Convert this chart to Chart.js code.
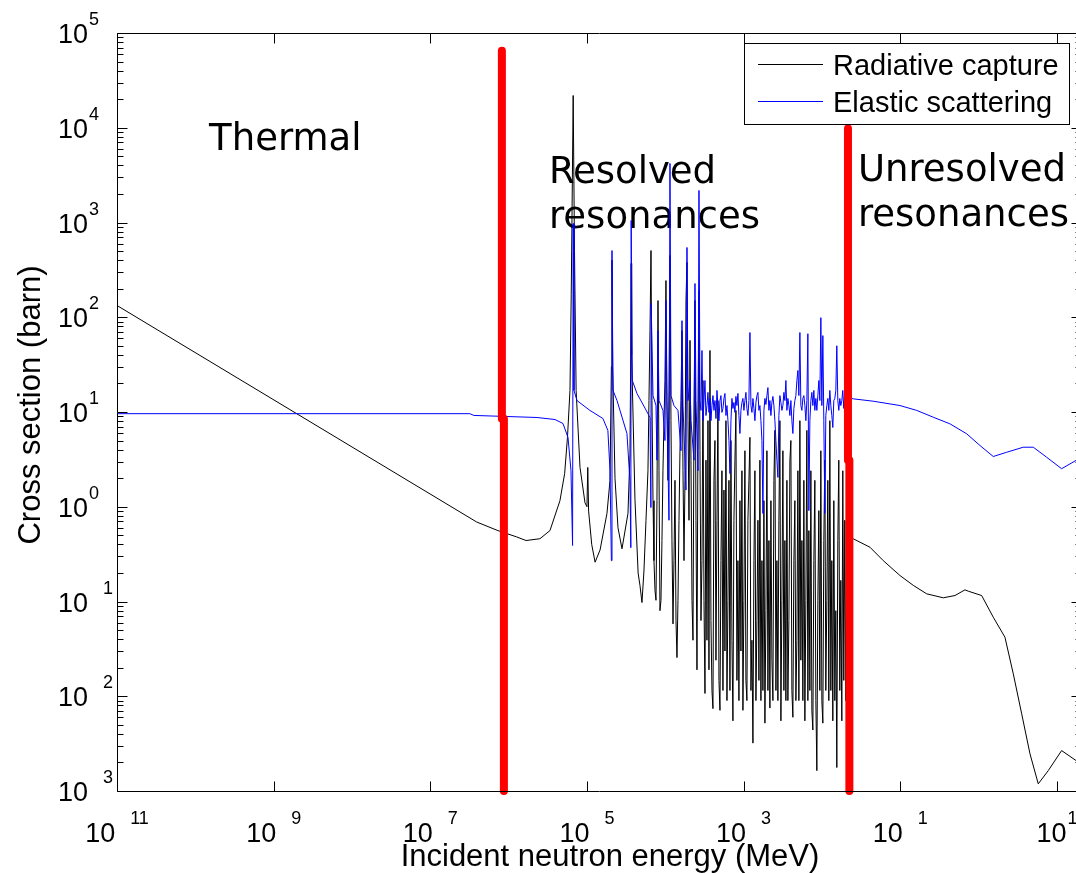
<!DOCTYPE html>
<html>
<head>
<meta charset="utf-8">
<title>U-238 cross sections</title>
<style>
  html, body { margin: 0; padding: 0; background: #fff; overflow: hidden; }
  #wrap { position: relative; width: 1100px; height: 873px; }
</style>
<script src="https://cdn.jsdelivr.net/npm/chart.js@4.4.1/dist/chart.umd.min.js"></script>
</head>
<body>
<div id="wrap"><canvas id="xs"></canvas></div>
<script>
// Energies are listed in eV, plotted in MeV; cross sections in barn.
var EV_TO_MEV = 1e-6;

var captureEnergyEV = [
  1e-5, 0.391, 0.73, 1.27, 1.67, 2.51, 3.37, 4.52, 5.19, 5.64, 6.07, 6.3, 6.67, 6.93, 7.27, 8.15, 9.44, 10.0, 10.24, 10.5,
  11.5, 12.7, 14.7, 18.0, 19.7, 20.5, 20.87, 21.3, 22.8, 24.9, 28.0, 33.4, 35.4, 36.2, 36.68, 37.2, 41.0, 45.0,
  47.5, 50.4, 53.4, 56.7, 60.1, 61.9, 63.8, 65.7, 67.6, 69.7, 71.7, 73.9, 76.1, 78.3, 80.7, 83.1, 85.5, 88.1, 90.7,
  93.4, 96.2, 99.1, 102, 105.1, 108.2, 111.5, 114.8, 118.2, 121.7, 125.4, 129.1, 133, 137, 141, 145.2, 149.6, 154,
  158.6, 163.3, 168.3, 173.3, 178.4, 183.7, 189.2, 194.9, 200.7, 206.7, 212.8, 219.2, 225.7, 232.4, 239.4, 246.5,
  253.8, 261.4, 269.2, 277.2, 285.5, 294, 302.8, 311.8, 321.1, 330.6, 340.5, 350.6, 361.1, 371.8, 382.9, 394.3,
  406.1, 418.2, 430.6, 443.5, 456.7, 470.3, 484.3, 498.8, 513.6, 528.9, 544.7, 561, 577.7, 594.9, 612.6, 630.9,
  649.7, 669, 689, 709.5, 730.6, 752.4, 774.8, 797.9, 821.7, 846.2, 871.4, 897.3, 924.1, 951.6, 980, 1009, 1039,
  1070, 1102, 1135, 1169, 1204, 1240, 1277, 1315, 1354, 1394, 1436, 1479, 1523, 1568, 1615, 1663, 1713, 1764, 1816,
  1870, 1926, 1984, 2043, 2104, 2166, 2231, 2297, 2366, 2436, 2509, 2584, 2661, 2740, 2822, 2906, 2992, 3082, 3173,
  3268, 3365, 3466, 3569, 3675, 3785, 3898, 4014, 4133, 4256, 4383, 4514, 4648, 4787, 4929, 5076, 5228, 5383, 5544,
  5709, 5879, 6054, 6234, 6420, 6612, 6808, 7011, 7220, 7435, 7657, 7885, 8120, 8361, 8610, 8867, 9131, 9403, 9683,
  9972, 10270, 10570, 10890, 11210, 11550, 11890, 12240, 12610, 12990, 13370, 13770, 14180, 14600, 15040, 15490,
  15950, 16420, 16910, 17420, 17940, 18470, 19020, 19590, 20170, 20770, 21390,
  25120, 41020, 60670, 99100, 146600, 217300, 354000, 499300, 669800, 738500, 1.094e6, 1.539e6, 2.17e6, 2.772e6,
  3.548e6, 4.529e6, 5.777e6, 7.749e6, 1.148e7, 1.749e7, 2e7
];
var captureXS = [
  133, 0.69, 0.56, 0.48, 0.44, 0.46, 0.56, 1.16, 2.24, 5.4, 16.9, 175, 21900, 506, 16.9, 2.6, 1.1, 1.0, 2.6, 0.9,
  0.4, 0.26, 0.35, 0.85, 1.9, 30, 400, 30, 2.0, 0.6, 0.36, 0.85, 3.6, 40, 370, 40, 1.2, 0.2,
  0.148, 0.0975, 0.21, 0.72, 2.4, 13.2, 72, 506, 13.2, 1.16, 0.27, 0.131, 0.103, 1.16, 150, 2.4, 0.080, 0.103, 0.44,
  2.4, 8.1, 21.5, 244, 13.2, 1.9, 16.9, 449, 8.1, 0.44, 0.058, 0.27, 1.9, 0.063, 0.0256, 0.103, 0.72, 3.9,
  13.2, 72, 2.4, 0.27, 1.9, 150, 380, 8.1, 0.72, 57, 3.1, 0.103, 0.039, 8.1, 150, 0.72,
  0.019, 6.4, 191, 3.9, 0.063, 0.27, 21.5, 0.103, 0.0107, 3.1, 0.039, 8.1, 0.019, 44.6, 0.063, 0.0115,
  0.0074, 1.9, 5.0, 0.024, 0.72, 13.2, 0.0147, 0.0071, 0.27, 2.4, 0.0115, 1.5, 0.030, 8.1, 0.009, 0.103,
  1.9, 0.0115, 5.0, 0.039, 0.0055, 0.72, 3.1, 10.4, 0.0147, 0.27, 0.009, 1.16, 0.030, 2.4, 0.0071, 0.103, 3.9,
  0.0147, 0.009, 0.72, 1.9, 5.4, 0.0115, 0.039, 0.0032, 0.27, 2.4, 0.009, 0.063, 0.72, 0.0147, 3.1, 0.009, 0.27, 0.0115, 1.16,
  0.0052, 0.08, 3.9, 0.0115, 0.44, 0.0075, 1.16, 0.024, 0.009, 1.9, 6.4, 0.0115, 0.27, 0.009, 0.72, 8.1, 0.0055, 0.103, 3.9,
  0.0115, 0.44, 0.009, 1.9, 0.009, 0.063, 3.1, 5.0, 0.0115, 0.006, 0.27, 1.16, 0.009, 0.039, 2.4, 0.009, 8.1, 0.024, 0.44,
  0.009, 1.9, 0.0055, 0.103, 6.4, 0.009, 0.56, 0.0115, 2.4, 0.0071, 0.0044, 0.27, 1.9, 0.009, 0.00164, 0.103, 0.91, 0.0115, 3.9,
  0.009, 0.0052, 0.44, 3.1, 0.0115, 0.103, 1.9, 0.009, 8.1, 0.0115, 0.27, 0.0055, 1.16, 0.009, 0.08, 0.00177,
  0.44, 3.1, 0.0115, 0.167, 0.0055, 2.4, 0.0147, 0.72, 0.009, 0.27, 0.44,
  0.459, 0.374, 0.27, 0.188, 0.148, 0.1205, 0.1094, 0.1156, 0.1327, 0.1285, 0.1156, 0.0683, 0.042, 0.01726,
  0.00653, 0.00247, 0.00119, 0.00164, 0.00267, 0.0021, 0.0019
];

var elasticEnergyEV = [
  1e-5, 0.32, 0.36, 2.30, 3.91, 4.94, 5.73, 6.25, 6.55, 6.67, 6.83, 7.46, 10.9, 16.0, 18.5, 19.7, 20.5, 20.87, 21.5,
  24.2, 32.4, 35.4, 36.3, 36.68, 37.9, 43.5, 55, 63.8, 65.5, 66.03, 69.7, 76.1, 78.3, 80.7, 83.1, 93.4, 99.1, 102,
  105.1, 111.5, 114.8, 118.2, 129.1, 145.2, 158.6, 163.3, 168.3, 183.7, 189.2, 194.9, 206.7, 212.8, 232.4, 239.4,
  246.5, 261.4, 269.2, 277.2,
  285.5, 294, 302.8, 311.8, 321.1, 330.6, 340.5, 350.6, 361.1, 371.8, 382.9, 394.3, 406.1, 418.2, 430.6, 443.5,
  456.7, 470.3, 484.3, 498.8, 513.6, 528.9, 544.7, 561, 577.7, 594.9, 612.6, 630.9, 649.7, 669, 689, 709.5, 730.6,
  752.4, 774.8, 797.9, 821.7, 846.2, 871.4, 897.3, 924.1, 951.6, 980, 1009, 1039, 1070, 1102, 1135, 1169, 1204,
  1240, 1277, 1315, 1354, 1394, 1436, 1479, 1523, 1568, 1615, 1663, 1713, 1764, 1816, 1870, 1926, 1984, 2043, 2104,
  2166, 2231, 2297, 2366, 2436, 2509, 2584, 2661, 2740, 2822, 2906, 2992, 3082, 3173, 3268, 3365, 3466, 3569, 3675,
  3785, 3898, 4014, 4133, 4256, 4383, 4514, 4648, 4787, 4929, 5076, 5228, 5383, 5544, 5709, 5879, 6054, 6234, 6420,
  6612, 6808, 7011, 7220, 7435, 7657, 7885, 8120, 8361, 8610, 8867, 9131, 9403, 9683, 9972, 10270, 10570, 10890,
  11210, 11550, 11890, 12240, 12610, 12990, 13370, 13770, 14180, 14600, 15040, 15490, 15950, 16420, 16910, 17420,
  17940, 18470, 19020, 19590, 20170, 20770, 21390,
  25120, 45190, 99100, 161900, 263800, 430500, 704700, 1.041e6, 1.539e6, 2.282e6, 3.718e6, 4.99e6, 7.396e6,
  1.148e7, 1.749e7, 2e7
];
var elasticXS = [
  9.6, 9.6, 9.2, 8.75, 8.33, 7.56, 5.38, 2.41, 0.39, 976, 16.9, 13.2, 10.4, 8.53, 6.38, 2.41, 0.27, 506, 16.9,
  13.2, 5.93, 1.89, 0.37, 1050, 21.5, 15.7, 11, 8.75, 0.98, 140, 14.9, 11.7, 3.1, 72, 13.2, 10.4, 5.0, 150,
  10.4, 0.72, 4200, 14.9, 11.7, 10.4, 3.9, 92, 11.7, 1.5, 545, 13.2, 21.5, 8.1, 3.1, 227,
  13.2, 2.4, 2180, 13.2,
  10.4, 44.6, 8.1, 13.2, 21.5, 9.18, 11.7, 16.1, 9.9, 13.9, 8.1, 11.7, 14.9, 10.4, 13.2, 8.53,
  16.9, 11.7, 8.1, 13.2, 14.9, 9.9, 10.9, 13.9, 15.7, 9.18, 11.7, 8.1, 5.0, 2.24, 8.1, 13.9, 10.9,
  12.6, 9.9, 14.6, 11.7, 15.7, 9.18, 5.93, 10.4, 12.6, 13.9, 10.4, 13.2, 16.1, 10.9, 9.18, 13.2, 69,
  11.7, 9.9, 13.9, 10.9, 8.1, 12.6, 14.9, 16.1, 10.4, 11.7, 8.1, 5.0, 0.85, 10.4, 13.9, 12.0, 14.9, 18.1, 10.4,
  13.2, 9.18, 12.6, 14.6, 11.7, 8.1, 5.0, 3.1, 2.04, 9.18, 14.9, 12.6, 10.4, 11.7, 16.1, 13.2, 21.5, 10.4, 13.9,
  11.7, 9.18, 13.2, 8.1, 5.93, 10.9, 13.2, 14.9, 21.5, 27.4, 14.9, 69, 11.7, 10.4, 13.9, 14.9, 11.7, 8.1, 13.2,
  67, 0.91, 8.1, 13.2, 16.1, 11.7, 16.9, 10.4, 13.9, 10.4, 14.9, 21.5, 13.2, 99, 11.7, 64, 8.1, 0.85,
  9.18, 11.7, 13.9, 10.4, 16.9, 11.7, 9.18, 6.86, 13.2, 13.9, 16.9, 50, 13.2, 10.4, 13.9, 11.7,
  13.2, 16.9, 10.9, 14.9, 12.6, 13.9, 14.2,
  13.77, 13.0, 11.7, 10.4, 8.81, 7.50, 5.89, 4.43, 3.39, 3.76, 4.25, 4.25, 3.33,
  2.52, 3.08, 3.5
];

// Hand-drawn region boundaries (MeV, barn)
var thermalLimitE = [8.2e-7, 8.2e-7, 8.7e-7, 8.7e-7];
var thermalLimitXS = [6.5e4, 8.5, 8.5, 1e-3];
var resolvedLimitE = [0.0215, 0.0215, 0.0224, 0.0224];
var resolvedLimitXS = [9.8e3, 3.1, 3.1, 1e-3];

// Axis decades carrying a label
var xTickPowers = [-11, -9, -7, -5, -3, -1, 1];
var yTickPowers = [5, 4, 3, 2, 1, 0, -1, -2, -3];

var seriesNames = ['Radiative capture', 'Elastic scattering'];
var regionNotes = [
  { lines: ['Thermal'], e: 1.5e-10, xs: 5800 },
  { lines: ['Resolved', 'resonances'], e: 3.27e-6, xs: 2640 },
  { lines: ['Unresolved', 'resonances'], e: 0.0288, xs: 2775 }
];

function toPoints(es, ys, scale) {
  var out = [];
  for (var i = 0; i < es.length; i++) out.push({ x: es[i] * scale, y: ys[i] });
  return out;
}

var SANS = '"Liberation Sans", Arial, Helvetica, sans-serif';
var NOTE_FONT = '37px "DejaVu Sans", sans-serif';

function drawPower(ctx, p, x, y, centred) {
  // "10" with a raised exponent; negative powers keep an empty slot where the sign goes
  ctx.font = '27px ' + SANS;
  var wb = ctx.measureText('10').width;
  var es = String(Math.abs(p));
  ctx.font = '18px ' + SANS;
  var we = ctx.measureText(es).width;
  var gap = p < 0 ? 15 : 1;
  var x0 = centred ? x - (wb + gap + we) / 2 : x;
  ctx.font = '27px ' + SANS;
  ctx.fillText('10', x0, y);
  ctx.font = '18px ' + SANS;
  ctx.fillText(es, x0 + wb + gap, y - 18);
}

var notesPlugin = {
  id: 'regionNotes',
  beforeDatasetsDraw: function (chart) {
    var ctx = chart.ctx, xs = chart.scales.x, ys = chart.scales.y;
    ctx.save();
    ctx.fillStyle = '#000';
    ctx.font = NOTE_FONT;
    ctx.textAlign = 'left';
    ctx.textBaseline = 'alphabetic';
    regionNotes.forEach(function (n) {
      var px = xs.getPixelForValue(n.e), py = ys.getPixelForValue(n.xs);
      n.lines.forEach(function (t, i) { ctx.fillText(t, px, py + i * 45); });
    });
    ctx.restore();
  }
};

var axesPlugin = {
  id: 'boxedAxes',
  afterDatasetsDraw: function (chart) {
    var ctx = chart.ctx, a = chart.chartArea, xs = chart.scales.x, ys = chart.scales.y;
    var L = Math.round(a.left) + 0.5, R = Math.round(a.right) + 0.5;
    var T = Math.round(a.top) + 0.5, B = Math.round(a.bottom) + 0.5;
    ctx.save();
    ctx.strokeStyle = '#000';
    ctx.lineWidth = 1;
    ctx.beginPath();
    ctx.rect(L, T, R - L, B - T);

    // y: decades plus 2..9 minor ticks, inward on both sides
    for (var d = -3; d <= 5; d++) {
      for (var m = 1; m <= 9; m++) {
        if (d === 5 && m > 1) break;
        var v = m * Math.pow(10, d);
        var py = Math.round(ys.getPixelForValue(v)) + 0.5;
        var len = m === 1 ? 10 : 6;
        ctx.moveTo(L, py); ctx.lineTo(L + len, py);
        ctx.moveTo(R, py); ctx.lineTo(R - len, py);
      }
    }
    // x: labelled decades only
    xTickPowers.forEach(function (p) {
      var px = Math.round(xs.getPixelForValue(Math.pow(10, p))) + 0.5;
      ctx.moveTo(px, B); ctx.lineTo(px, B - 10);
      ctx.moveTo(px, T); ctx.lineTo(px, T + 10);
    });
    ctx.stroke();

    ctx.fillStyle = '#000';
    ctx.textAlign = 'left';
    ctx.textBaseline = 'alphabetic';
    yTickPowers.forEach(function (p) {
      drawPower(ctx, p, 58, ys.getPixelForValue(Math.pow(10, p)) + 10, false);
    });
    xTickPowers.forEach(function (p) {
      drawPower(ctx, p, xs.getPixelForValue(Math.pow(10, p)), 842, true);
    });

    // axis titles
    ctx.font = '31px ' + SANS;
    ctx.textAlign = 'center';
    ctx.fillText('Incident neutron energy (MeV)', 610, 866);
    ctx.save();
    ctx.translate(40, 405);
    ctx.rotate(-Math.PI / 2);
    ctx.fillText('Cross section (barn)', 0, 0);
    ctx.restore();

    // legend box, top right inside the axes
    ctx.fillStyle = '#fff';
    ctx.fillRect(744, 43, 325, 81);
    ctx.strokeStyle = '#000';
    ctx.strokeRect(744.5, 43.5, 325, 81);
    var colours = ['#000000', '#0000ff'];
    ctx.font = '29px ' + SANS;
    ctx.textAlign = 'left';
    seriesNames.forEach(function (name, i) {
      var ly = i === 0 ? 64.5 : 101.5;
      ctx.strokeStyle = colours[i];
      ctx.beginPath(); ctx.moveTo(758, ly); ctx.lineTo(823, ly); ctx.stroke();
      ctx.fillStyle = '#000';
      ctx.fillText(name, 833, ly + 10);
    });
    ctx.restore();
  }
};

new Chart(document.getElementById('xs'), {
  type: 'line',
  data: {
    datasets: [
      { label: 'thermal limit', data: toPoints(thermalLimitE, thermalLimitXS, 1), borderColor: '#ff0000',
        borderWidth: 8, borderCapStyle: 'round', borderJoinStyle: 'round', clip: false, order: 0 },
      { label: 'resolved limit', data: toPoints(resolvedLimitE, resolvedLimitXS, 1), borderColor: '#ff0000',
        borderWidth: 8, borderCapStyle: 'round', borderJoinStyle: 'round', clip: false, order: 0 },
      { label: seriesNames[1], data: toPoints(elasticEnergyEV, elasticXS, EV_TO_MEV), borderColor: '#0000ff',
        borderWidth: 1, order: 1 },
      { label: seriesNames[0], data: toPoints(captureEnergyEV, captureXS, EV_TO_MEV), borderColor: '#000000',
        borderWidth: 1, order: 2 }
    ]
  },
  options: {
    responsive: true,
    maintainAspectRatio: false,
    animation: false,
    devicePixelRatio: 1,
    parsing: false,
    events: [],
    elements: { point: { radius: 0 }, line: { tension: 0, fill: false } },
    layout: { padding: { top: 33, right: 19.5, bottom: 0, left: 0 } },
    plugins: { legend: { display: false }, tooltip: { enabled: false } },
    scales: {
      x: {
        type: 'logarithmic', min: 1e-11, max: 20,
        ticks: { display: false }, grid: { display: false }, border: { display: false },
        afterFit: function (s) { s.height = 82; }
      },
      y: {
        type: 'logarithmic', min: 1e-3, max: 1e5,
        ticks: { display: false }, grid: { display: false }, border: { display: false },
        afterFit: function (s) { s.width = 117; }
      }
    }
  },
  plugins: [notesPlugin, axesPlugin]
});
</script>
</body>
</html>
